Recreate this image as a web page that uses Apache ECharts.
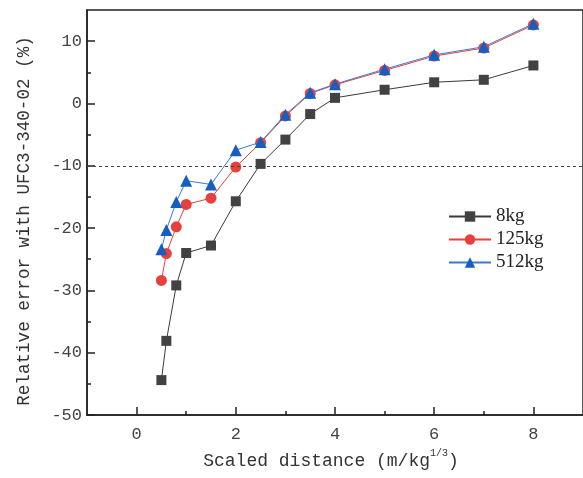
<!DOCTYPE html>
<html>
<head>
<meta charset="utf-8">
<script src="https://cdn.jsdelivr.net/npm/echarts@6/dist/echarts.min.js"></script>
<style>
  html, body { margin: 0; padding: 0; background: #fff; }
  #chart { width: 583px; height: 478px; }
</style>
</head>
<body>
<div id="chart"></div>
<script>
// Scaled distance (m/kg^1/3)
const distance = [0.5, 0.6, 0.8, 1.0, 1.5, 2.0, 2.5, 3.0, 3.5, 4.0, 5.0, 6.0, 7.0, 8.0];
// Relative error with UFC3-340-02 (%) per charge mass
const err8kg   = [-44.4, -38.1, -29.2, -24.0, -22.8, -15.7, -9.7, -5.8, -1.7, 0.9, 2.2, 3.4, 3.8, 6.1];
const err125kg = [-28.4, -24.1, -19.8, -16.2, -15.2, -10.2, -6.3, -2.0, 1.6, 3.0, 5.3, 7.6, 8.9, 12.6];
const err512kg = [-23.4, -20.3, -15.8, -12.4, -13.0, -7.5, -6.2, -1.8, 1.7, 3.1, 5.5, 7.8, 9.1, 12.8];
const seriesNames = ['8kg', '125kg', '512kg'];

// Axis ticks
const xMajorTicks = [0, 2, 4, 6, 8];
const xMinorTicks = [1, 3, 5, 7];
const yMajorTicks = [-50, -40, -30, -20, -10, 0, 10];
const yMinorTicks = [-45, -35, -25, -15, -5, 5];
const thresholdLine = -10;

const X_MIN = -1, X_MAX = 9, Y_MIN = -50, Y_MAX = 15;
const MONO = '"Liberation Mono", "DejaVu Sans Mono", monospace';
const SERIF = '"Liberation Serif", "DejaVu Serif", serif';
const AXIS_COLOR = '#222';

const zip = (xs, ys) => xs.map((x, i) => [x, ys[i]]);

const chart = echarts.init(document.getElementById('chart'), null, { renderer: 'canvas' });

const baseX = {
  type: 'value', min: X_MIN, max: X_MAX, interval: 1, position: 'bottom',
  splitLine: { show: false }
};
const baseY = {
  type: 'value', min: Y_MIN, max: Y_MAX, interval: 5, position: 'left',
  splitLine: { show: false }
};

chart.setOption({
  animation: false,
  backgroundColor: '#fff',
  grid: {
    left: 87, top: 10, width: 503, height: 405,
    show: true, borderColor: AXIS_COLOR, borderWidth: 1.5, backgroundColor: 'transparent'
  },
  legend: {
    orient: 'vertical',
    left: 443, top: 202,
    itemWidth: 42, itemHeight: 13, itemGap: 4,
    textStyle: { fontFamily: SERIF, fontSize: 19, color: '#222' },
    data: seriesNames
  },
  xAxis: [
    Object.assign({}, baseX, {
      name: '{t|Scaled distance (m/kg}{s|1/3}{t|)}',
      nameLocation: 'middle',
      nameGap: 33,
      nameTextStyle: {
        padding: [0, 8, 0, 0],
        rich: {
          t: { fontFamily: MONO, fontSize: 18, color: '#333', lineHeight: 22, verticalAlign: 'bottom' },
          s: { fontFamily: MONO, fontSize: 10, color: '#333', lineHeight: 22, verticalAlign: 'top' }
        }
      },
      axisLine: { show: true, onZero: false, lineStyle: { color: AXIS_COLOR, width: 1.5 } },
      axisTick: { show: true, inside: true, length: 8, customValues: xMajorTicks,
                  lineStyle: { color: AXIS_COLOR, width: 1.5 } },
      axisLabel: { customValues: xMajorTicks, margin: 11, fontFamily: MONO, fontSize: 17, color: '#444' }
    }),
    Object.assign({}, baseX, {
      axisLine: { show: false, onZero: false },
      axisTick: { show: true, inside: true, length: 4, customValues: xMinorTicks,
                  lineStyle: { color: AXIS_COLOR, width: 1.5 } },
      axisLabel: { show: false }
    })
  ],
  yAxis: [
    Object.assign({}, baseY, {
      name: 'Relative error with UFC3-340-02 (%)',
      nameLocation: 'middle',
      nameRotate: 90,
      nameGap: 54,
      nameTextStyle: { fontFamily: MONO, fontSize: 17.6, color: '#333', padding: [0, 17, 0, 0] },
      axisLine: { show: true, onZero: false, lineStyle: { color: AXIS_COLOR, width: 1.5 } },
      axisTick: { show: true, inside: true, length: 8, customValues: yMajorTicks,
                  lineStyle: { color: AXIS_COLOR, width: 1.5 } },
      axisLabel: { customValues: yMajorTicks, margin: 5, fontFamily: MONO, fontSize: 17, color: '#444' }
    }),
    Object.assign({}, baseY, {
      axisLine: { show: false, onZero: false },
      axisTick: { show: true, inside: true, length: 4, customValues: yMinorTicks,
                  lineStyle: { color: AXIS_COLOR, width: 1.5 } },
      axisLabel: { show: false }
    })
  ],
  series: [
    {
      name: seriesNames[0], type: 'line', data: zip(distance, err8kg),
      symbol: 'rect', symbolSize: 10,
      itemStyle: { color: '#424242' },
      lineStyle: { color: '#3a3a3a', width: 1 },
      markLine: {
        silent: true, symbol: 'none',
        label: { show: false },
        lineStyle: { color: '#444', width: 1, type: [3, 3] },
        data: [{ yAxis: thresholdLine }]
      },
      z: 2
    },
    {
      name: seriesNames[1], type: 'line', data: zip(distance, err125kg),
      symbol: 'circle', symbolSize: 11,
      itemStyle: { color: '#e8403c' },
      lineStyle: { color: '#e8403c', width: 1 },
      z: 3
    },
    {
      name: seriesNames[2], type: 'line', data: zip(distance, err512kg),
      symbol: 'triangle', symbolSize: 12,
      itemStyle: { color: '#145fc0' },
      lineStyle: { color: '#3a7ad0', width: 1 },
      z: 4
    }
  ]
});
</script>
</body>
</html>
